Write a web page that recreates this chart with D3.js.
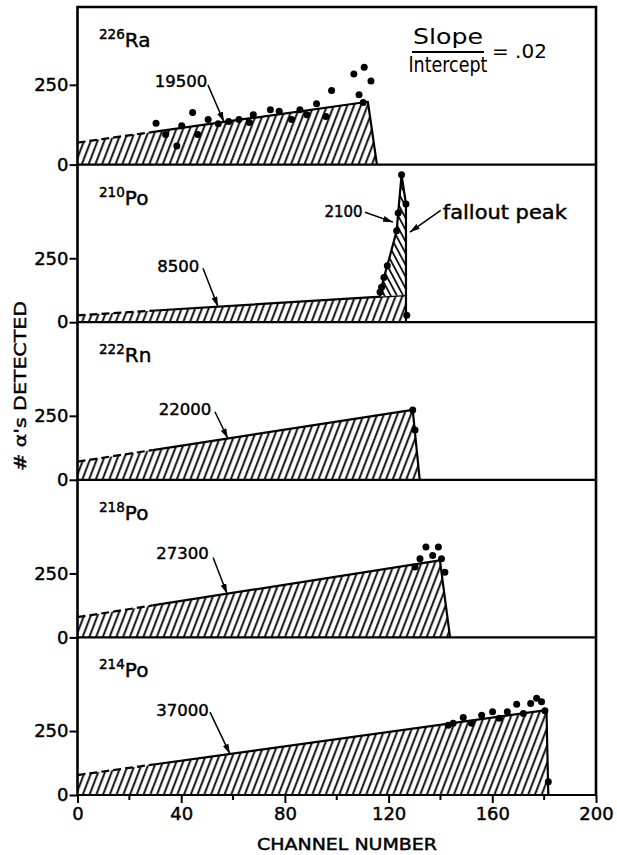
<!DOCTYPE html>
<html>
<head>
<meta charset="utf-8">
<script src="https://cdn.jsdelivr.net/npm/d3@7"></script>
<style>
  html, body { margin: 0; padding: 0; background: #fff; }
  svg { display: block; font-family: "DejaVu Sans", sans-serif; }
  text { fill: #000; }
</style>
</head>
<body>
<svg id="chart" width="617" height="855"></svg>
<script>
// ---- Channel axis -------------------------------------------------------
const channelTicks = [0, 40, 80, 120, 160, 200];
const channelMinorTicks = [20, 60, 100, 140, 180];
const countTicks = [0, 250];

// ---- One panel per nuclide, top to bottom --------------------------------
const massNumbers = ["226", "210", "222", "218", "214"];
const elements = ["Ra", "Po", "Rn", "Po", "Po"];
const totalCounts = ["19500", "8500", "22000", "27300", "37000"];
const countMax = [494, 616, 616, 616, 616];

// Fitted spectrum outline [channel, counts]: intercept at channel 0,
// top of the ramp, then the cut-off back to zero
const raFit    = [[0, 69], [112, 197], [115.5, 0]];
const po210Fit = [[0, 27], [126.7, 106], [126.7, 0]];
const rnFit    = [[0, 71], [129.3, 273], [132, 0]];
const po218Fit = [[0, 79], [139.8, 301], [143.7, 0]];
const po214Fit = [[0, 78], [180.9, 332], [181.6, 0]];
const fits = [raFit, po210Fit, rnFit, po218Fit, po214Fit];

// Below this channel the fit is an extrapolation (drawn dashed)
const extrapolatedTo = [30, 30, 29, 29, 30];

// Narrow 210Po fallout peak sitting on the ramp
const po210Peak = [[116.7, 100], [117.3, 137], [118.2, 175], [119.5, 221], [123.1, 357],
                   [123.7, 427], [125, 576], [126.7, 462], [126.7, 106]];

// Measured channel contents [channel, counts]
const raDots = [[30.3, 130], [34, 94], [38.3, 58], [40.2, 122], [44.4, 163], [46.4, 94],
  [50.4, 141], [54.3, 128], [58.3, 135], [62.3, 141], [66.3, 132], [67.8, 156], [74.4, 172],
  [77.8, 167], [82.6, 141], [85.8, 172], [88.5, 156], [92.2, 191], [95.8, 151], [98, 232],
  [106.6, 284], [108.6, 219], [110.6, 305], [113.2, 262], [110.2, 195]];
const po210Dots = [[125, 576], [126.7, 462], [123.7, 427], [123.1, 357], [119.5, 221],
  [118.2, 175], [117.3, 137], [116.7, 118], [127, 27]];
const rnDots = [[129.3, 273], [130.2, 195]];
const po218Dots = [[134.4, 353], [139.2, 353], [132.1, 307], [137, 320], [140.4, 307],
  [130.2, 275], [141.7, 255]];
const po214Dots = [[143, 273], [144.9, 280], [148.8, 303], [152, 280], [155.9, 312],
  [160.1, 325], [162.7, 300], [165.8, 325], [169.4, 355], [172, 319], [174.8, 358],
  [177.1, 378], [179, 364], [180.3, 329], [181.6, 52]];
const dots = [raDots, po210Dots, rnDots, po218Dots, po214Dots];

// Annotation anchors in data units: total-count label centre, arrow tail, arrow-tip channel
const totalLabelAt = [[39.9, 259], [38.9, 219], [41.5, 273], [40.5, 328], [40.5, 332]];
const arrowTail = [[50.3, 250], [48.4, 211], [53, 266], [52.3, 312], [51.1, 324]];
const arrowTipChannel = [56.5, 54.2, 58, 57.7, 58.8];

// ---- Layout --------------------------------------------------------------
const plotLeft = 77.5, plotRight = 596, plotTop = 7, panelH = 157.6;
const x = d3.scaleLinear().domain([0, 200]).range([plotLeft, plotRight]);

const svg = d3.select("#chart");
const defs = svg.append("defs");

defs.append("pattern")
  .attr("id", "hatch").attr("patternUnits", "userSpaceOnUse")
  .attr("width", 6.3).attr("height", 20).attr("patternTransform", "rotate(21)")
  .append("line").attr("x1", 3).attr("y1", -2).attr("x2", 3).attr("y2", 22)
  .attr("stroke", "#000").attr("stroke-width", 1.85);

defs.append("pattern")
  .attr("id", "backhatch").attr("patternUnits", "userSpaceOnUse")
  .attr("width", 5.5).attr("height", 20).attr("patternTransform", "rotate(-28)")
  .append("line").attr("x1", 2.7).attr("y1", -2).attr("x2", 2.7).attr("y2", 22)
  .attr("stroke", "#000").attr("stroke-width", 1.7);

defs.append("marker")
  .attr("id", "arrow").attr("viewBox", "0 0 10 6").attr("refX", 10).attr("refY", 3)
  .attr("markerWidth", 10).attr("markerHeight", 6).attr("markerUnits", "userSpaceOnUse")
  .attr("orient", "auto")
  .append("path").attr("d", "M0,0L10,3L0,6Z").attr("fill", "#000");

const inkText = sel => sel.attr("stroke", "#000").attr("stroke-width", 0.45);

fits.forEach((fit, i) => {
  const base = plotTop + (i + 1) * panelH;
  const y = d3.scaleLinear().domain([0, countMax[i]]).range([base, base - panelH]);
  const line = d3.line().x(d => x(d[0])).y(d => y(d[1]));
  const g = svg.append("g");

  // hatched area under the fit
  g.append("path")
    .attr("d", line([[fit[0][0], 0], ...fit]) + "Z")
    .attr("fill", "url(#hatch)");

  // fit outline: dashed where extrapolated, solid elsewhere
  const ramp = d3.scaleLinear().domain([fit[0][0], fit[1][0]]).range([fit[0][1], fit[1][1]]);
  const brk = [extrapolatedTo[i], ramp(extrapolatedTo[i])];
  g.append("path").attr("d", line([fit[0], brk]))
    .attr("fill", "none").attr("stroke", "#000").attr("stroke-width", 2.2)
    .attr("stroke-dasharray", "8,4");
  g.append("path").attr("d", line([brk, fit[1], fit[2]]))
    .attr("fill", "none").attr("stroke", "#000").attr("stroke-width", 2.2)
    .attr("stroke-linejoin", "round");

  // fallout peak on the 210Po panel
  if (i === 1) {
    g.append("path").attr("d", line(po210Peak) + "Z").attr("fill", "#fff");
    g.append("path").attr("d", line(po210Peak) + "Z").attr("fill", "url(#backhatch)");
    g.append("path").attr("d", line(po210Peak))
      .attr("fill", "none").attr("stroke", "#000").attr("stroke-width", 2.2)
      .attr("stroke-linejoin", "round");
  }

  // measured points
  g.selectAll("circle").data(dots[i]).join("circle")
    .attr("cx", d => x(d[0])).attr("cy", d => y(d[1])).attr("r", 3.5)
    .attr("fill", "#000");

  // nuclide label
  const lab = g.append("text").attr("x", x(8.3)).attr("y", base - panelH + 40);
  lab.append("tspan").attr("font-size", 13.5).attr("dy", -8).text(massNumbers[i]);
  lab.append("tspan").attr("font-size", 20).attr("dy", 8).text(elements[i]);
  inkText(lab);

  // total-count label with arrow to the fit
  inkText(g.append("text")
    .attr("x", x(totalLabelAt[i][0])).attr("y", y(totalLabelAt[i][1]))
    .attr("text-anchor", "middle").attr("dominant-baseline", "central")
    .attr("font-size", 16.5).text(totalCounts[i]));
  const tipC = arrowTipChannel[i];
  g.append("line")
    .attr("x1", x(arrowTail[i][0])).attr("y1", y(arrowTail[i][1]))
    .attr("x2", x(tipC)).attr("y2", y(ramp(tipC)))
    .attr("stroke", "#000").attr("stroke-width", 1.5)
    .attr("marker-end", "url(#arrow)");

  if (i === 1) {
    inkText(g.append("text").attr("x", x(102.6)).attr("y", y(430))
      .attr("text-anchor", "middle").attr("dominant-baseline", "central")
      .attr("font-size", 15).text("2100"));
    g.append("line").attr("x1", x(110.9)).attr("y1", y(430))
      .attr("x2", x(121.7)).attr("y2", y(391))
      .attr("stroke", "#000").attr("stroke-width", 1.5).attr("marker-end", "url(#arrow)");
    inkText(g.append("text").attr("x", x(140.9)).attr("y", y(430))
      .attr("dominant-baseline", "central")
      .attr("font-size", 19).attr("textLength", 124).attr("lengthAdjust", "spacingAndGlyphs")
      .text("fallout peak"));
    g.append("line").attr("x1", x(140.1)).attr("y1", y(437))
      .attr("x2", x(128.2)).attr("y2", y(352))
      .attr("stroke", "#000").attr("stroke-width", 1.5).attr("marker-end", "url(#arrow)");
  }

  if (i === 0) {
    const cx = x(142.9), fy = y(353);
    g.append("text").attr("x", cx).attr("y", fy - 8).attr("text-anchor", "middle")
      .attr("font-size", 21).attr("textLength", 70).attr("lengthAdjust", "spacingAndGlyphs")
      .text("Slope");
    g.append("line").attr("x1", cx - 36).attr("x2", cx + 36).attr("y1", fy).attr("y2", fy)
      .attr("stroke", "#000").attr("stroke-width", 2);
    g.append("text").attr("x", cx).attr("y", fy + 20).attr("text-anchor", "middle")
      .attr("font-size", 21).attr("textLength", 79).attr("lengthAdjust", "spacingAndGlyphs")
      .text("Intercept");
    g.append("text").attr("x", cx + 44).attr("y", fy + 6)
      .attr("font-size", 20).text("= .02");
  }

  // count axis for this panel
  const ax = svg.append("g").attr("transform", `translate(${plotLeft},0)`)
    .call(d3.axisLeft(y).tickValues(countTicks).tickSize(8).tickPadding(1)
      .tickFormat(d3.format("d")));
  ax.select(".domain").remove();
  ax.selectAll(".tick line").attr("stroke-width", 2);
  inkText(ax.selectAll(".tick text").attr("font-size", 18)
    .attr("font-family", "DejaVu Sans, sans-serif"));

  // panel baseline
  svg.append("line").attr("x1", plotLeft).attr("x2", plotRight)
    .attr("y1", base).attr("y2", base)
    .attr("stroke", "#000").attr("stroke-width", 2.2);
});

// ---- Channel axis along the bottom ----------------------------------------
const bottom = plotTop + 5 * panelH;
const xa = svg.append("g").attr("transform", `translate(0,${bottom})`)
  .call(d3.axisBottom(x).tickValues(channelTicks).tickSize(8).tickPadding(4));
xa.select(".domain").remove();
xa.selectAll(".tick line").attr("stroke-width", 2);
inkText(xa.selectAll(".tick text").attr("font-size", 18)
  .attr("font-family", "DejaVu Sans, sans-serif"));

svg.append("g").selectAll("line").data(channelMinorTicks).join("line")
  .attr("x1", d => x(d)).attr("x2", d => x(d))
  .attr("y1", bottom).attr("y2", bottom + 5)
  .attr("stroke", "#000").attr("stroke-width", 2);

// ---- Frame ----------------------------------------------------------------
svg.append("path")
  .attr("d", `M${plotLeft},${bottom}V${plotTop}H${plotRight}V${bottom}`)
  .attr("fill", "none").attr("stroke", "#000").attr("stroke-width", 2.6);

// ---- Axis titles ----------------------------------------------------------
inkText(svg.append("text").attr("x", 347).attr("y", 850).attr("text-anchor", "middle")
  .attr("font-size", 16).attr("textLength", 180).attr("lengthAdjust", "spacingAndGlyphs")
  .text("CHANNEL NUMBER"));
inkText(svg.append("text")
  .attr("transform", "translate(26,386) rotate(-90)").attr("text-anchor", "middle")
  .attr("font-size", 16).attr("textLength", 170).attr("lengthAdjust", "spacingAndGlyphs")
  .text("# α's DETECTED"));
</script>
</body>
</html>
